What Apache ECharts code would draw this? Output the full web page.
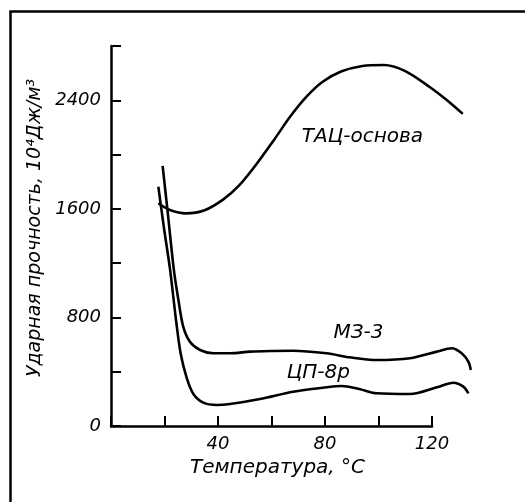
<!DOCTYPE html>
<html>
<head>
<meta charset="utf-8">
<script src="https://cdn.jsdelivr.net/npm/echarts@6/dist/echarts.min.js"></script>
<style>
  html, body { margin: 0; padding: 0; background: #fff; }
  #chart { width: 525px; height: 502px; }
</style>
</head>
<body>
<div id="chart"></div>
<script>
// ТАЦ-основа
const tacTemp = [17.7, 22, 28, 35, 42, 48, 54, 61, 67, 73, 79, 86, 94, 102, 110, 119, 125.5, 131.5]
const tacVal = [1641, 1592, 1567, 1590, 1670, 1775, 1920, 2110, 2280, 2425, 2535, 2612, 2653, 2660, 2615, 2500, 2402, 2300]

// МЗ-3
const mzTemp = [19.3, 21.3, 23.5, 25.2, 27.0, 29.5, 33.3, 38.2, 44.5, 52, 60, 68, 80.6, 89.3, 99.3, 111.8, 121.8, 127.4, 131.1, 133.6, 134.5]
const mzVal = [1916, 1555, 1150, 928, 732, 621, 560, 536, 536, 548, 553, 555, 536, 506, 486, 499, 548, 573, 536, 474, 413]

// ЦП-8р
const cpTemp = [17.7, 19.8, 22.1, 24.3, 26.0, 28.3, 30.8, 34.5, 39.5, 44.5, 55.7, 68.1, 80.6, 86.2, 93.1, 99.3, 111.8, 121.8, 128, 131.7, 133.6]
const cpVal = [1763, 1459, 1150, 781, 538, 354, 236, 172, 155, 162, 199, 253, 285, 295, 271, 241, 236, 285, 319, 290, 241]

const seriesNames = ['ТАЦ-основа', 'МЗ-3', 'ЦП-8р']
// where the curve names sit, in data units
const notePos = [[94, 2130], [92.5, 685], [77.5, 391]]

const xTicks = [40, 80, 120]
const yTicks = [0, 800, 1600, 2400]

const font = 'DejaVu Sans'
const ink = '#000'

// the drawn axis stops at 120, the curves run on past it,
// so they sit on a wider hidden grid with the same scale
const axisMax = 120
const plotMax = 140
const gridLeft = 111
const axisWidth = 321
const plotWidth = axisWidth * plotMax / axisMax

function pairs(xs, ys) {
  return xs.map((x, i) => [x, ys[i]])
}

function curve(name, data, note) {
  return {
    name: name,
    type: 'line',
    xAxisIndex: 1,
    yAxisIndex: 1,
    data: data,
    smooth: 0.3,
    symbol: 'none',
    lineStyle: { color: ink, width: 2.6 },
    markPoint: {
      symbol: 'circle',
      symbolSize: 0,
      data: [{
        coord: note,
        label: {
          show: true,
          formatter: name,
          color: ink,
          fontFamily: font,
          fontStyle: 'italic',
          fontSize: 20
        }
      }]
    }
  }
}

const labelStyle = {
  color: ink,
  fontFamily: font,
  fontStyle: 'italic',
  fontSize: 18
}

const chart = echarts.init(document.getElementById('chart'))

chart.setOption({
  animation: false,
  backgroundColor: '#fff',
  grid: [
    { left: gridLeft, width: axisWidth, top: 46, bottom: 76 },
    { left: gridLeft, width: plotWidth, top: 46, bottom: 76 }
  ],
  graphic: [{
    type: 'rect',
    left: 8,
    top: 9,
    shape: { width: 620, height: 620 },
    style: { fill: 'none', stroke: ink, lineWidth: 2.5 },
    silent: true
  }],
  xAxis: [{
    type: 'value',
    gridIndex: 0,
    min: 0,
    max: axisMax,
    interval: 20,
    name: 'Температура, °С',
    nameLocation: 'middle',
    nameGap: 32,
    nameTextStyle: { color: ink, fontFamily: font, fontStyle: 'italic', fontSize: 20, padding: [0, 0, 0, 12] },
    axisLine: { show: true, onZero: false, lineStyle: { color: ink, width: 2.5 } },
    axisTick: { show: true, inside: true, length: 10, lineStyle: { color: ink, width: 2 } },
    splitLine: { show: false },
    axisLabel: Object.assign({}, labelStyle, {
      margin: 9,
      formatter: v => xTicks.includes(v) ? String(v) : ''
    })
  }, {
    type: 'value',
    gridIndex: 1,
    min: 0,
    max: plotMax,
    show: false
  }],
  yAxis: [{
    type: 'value',
    gridIndex: 0,
    min: 0,
    max: 2800,
    interval: 400,
    name: 'Ударная прочность, 10⁴Дж/м³',
    nameLocation: 'middle',
    nameRotate: 90,
    nameGap: 62,
    nameTextStyle: { color: ink, fontFamily: font, fontStyle: 'italic', fontSize: 19, padding: [0, 0, 0, 16] },
    axisLine: { show: true, lineStyle: { color: ink, width: 2.5 } },
    axisTick: { show: true, inside: true, length: 10, lineStyle: { color: ink, width: 2 } },
    splitLine: { show: false },
    axisLabel: Object.assign({}, labelStyle, {
      margin: 10,
      formatter: v => yTicks.includes(v) ? String(v) : ''
    })
  }, {
    type: 'value',
    gridIndex: 1,
    min: 0,
    max: 2800,
    show: false
  }],
  series: [
    curve(seriesNames[0], pairs(tacTemp, tacVal), notePos[0]),
    curve(seriesNames[1], pairs(mzTemp, mzVal), notePos[1]),
    curve(seriesNames[2], pairs(cpTemp, cpVal), notePos[2])
  ]
})
</script>
</body>
</html>
